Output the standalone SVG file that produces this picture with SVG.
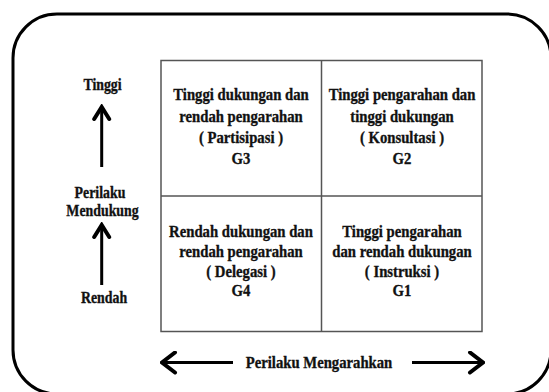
<svg xmlns="http://www.w3.org/2000/svg" width="549" height="392" viewBox="0 0 549 392">
<style>
.t{font-family:"Liberation Serif","Times New Roman",serif;font-weight:bold;font-size:17.5px;fill:#111;stroke:#111;stroke-width:0.35;text-anchor:middle}
.s{font-size:16.5px}
.grid{fill:none;stroke:#555;stroke-width:1.5}
.ax{fill:none;stroke:#000;stroke-width:3;stroke-linecap:butt}
</style>
<defs>
<marker id="ahs" viewBox="0 0 18 20" refX="15" refY="10" markerWidth="18" markerHeight="20" orient="auto" markerUnits="userSpaceOnUse">
<path d="M3,2.5 L15,10 L3,17.5" fill="none" stroke="#000" stroke-width="4" stroke-linecap="round" stroke-linejoin="miter"/>
</marker>
<marker id="ahl" viewBox="0 0 18 24" refX="16" refY="12" markerWidth="18" markerHeight="24" orient="auto" markerUnits="userSpaceOnUse">
<path d="M3,2 L16,12 L3,22" fill="none" stroke="#000" stroke-width="4" stroke-linecap="round" stroke-linejoin="miter"/>
</marker>
</defs>
<rect x="0" y="0" width="549" height="392" fill="#fff"/>
<rect id="frame" x="13" y="14" width="538" height="380" rx="44" ry="44" fill="none" stroke="#000" stroke-width="3"/>
<g id="grid">
<rect class="grid" x="161" y="60.5" width="321" height="271"/>
<line class="grid" x1="321.5" y1="60.5" x2="321.5" y2="331.5"/>
<line class="grid" x1="161" y1="196" x2="482" y2="196"/>
</g>
<g id="g3">
<text class="t" transform="translate(241,100) scale(0.84,1)">Tinggi dukungan dan</text>
<text class="t" transform="translate(241,121.5) scale(0.84,1)">rendah pengarahan</text>
<text class="t" transform="translate(241,143) scale(0.84,1)">( Partisipasi )</text>
<text class="t" transform="translate(241,164) scale(0.84,1)">G3</text>
</g>
<g id="g2">
<text class="t" transform="translate(402,100) scale(0.84,1)">Tinggi pengarahan dan</text>
<text class="t" transform="translate(402,121.5) scale(0.84,1)">tinggi dukungan</text>
<text class="t" transform="translate(402,143) scale(0.84,1)">( Konsultasi )</text>
<text class="t" transform="translate(402,164) scale(0.84,1)">G2</text>
</g>
<g id="g4">
<text class="t" transform="translate(241,237) scale(0.84,1)">Rendah dukungan dan</text>
<text class="t" transform="translate(241,257) scale(0.84,1)">rendah pengarahan</text>
<text class="t" transform="translate(241,276.5) scale(0.84,1)">( Delegasi )</text>
<text class="t" transform="translate(241,296) scale(0.84,1)">G4</text>
</g>
<g id="g1">
<text class="t" transform="translate(402,237) scale(0.84,1)">Tinggi pengarahan</text>
<text class="t" transform="translate(402,257) scale(0.84,1)">dan rendah dukungan</text>
<text class="t" transform="translate(402,276.5) scale(0.84,1)">( Instruksi )</text>
<text class="t" transform="translate(402,296) scale(0.84,1)">G1</text>
</g>
<g id="y-axis">
<text class="t s" transform="translate(102.5,90) scale(0.84,1)">Tinggi</text>
<text class="t s" transform="translate(100,198) scale(0.84,1)">Perilaku</text>
<text class="t s" transform="translate(102.5,216) scale(0.84,1)">Mendukung</text>
<text class="t s" transform="translate(104,303) scale(0.84,1)">Rendah</text>
</g>
<g id="x-axis">
<text class="t" transform="translate(319,368) scale(0.84,1)">Perilaku Mengarahkan</text>
</g>
<g id="connectors">
<line class="ax" x1="101.7" y1="167" x2="101.7" y2="107" marker-end="url(#ahs)"/>
<line class="ax" x1="101.7" y1="285" x2="101.7" y2="225" marker-end="url(#ahs)"/>
<line class="ax" x1="233" y1="362.5" x2="162" y2="362.5" marker-end="url(#ahl)" stroke-width="3.5"/>
<line class="ax" x1="412" y1="362.5" x2="483" y2="362.5" marker-end="url(#ahl)" stroke-width="3.5"/>
</g>
</svg>
